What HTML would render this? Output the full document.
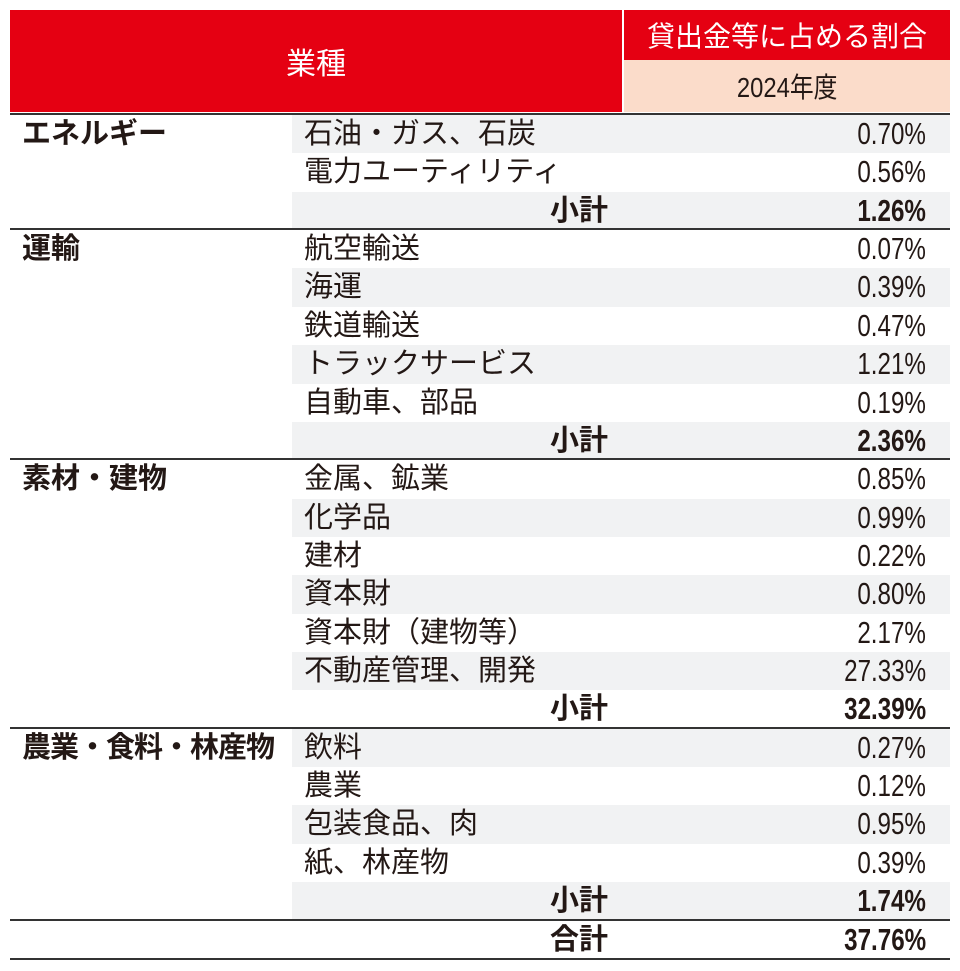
<!DOCTYPE html>
<html><head><meta charset="utf-8"><style>
body{margin:0;background:#fff;width:960px;height:971px;position:relative;overflow:hidden;font-family:"Liberation Sans","Noto Sans CJK JP",sans-serif;color:#231815}
div{position:absolute}
#rows{left:0;top:0;width:960px;height:971px}
.h1{left:10px;top:10px;width:612px;height:102px;background:#e50012;color:#fff;font-size:30px;display:flex;align-items:center;justify-content:center}
.h2{left:622px;top:10px;width:328px;height:50px;background:#e50012;color:#fff;font-size:28px;display:flex;align-items:center;justify-content:center;border-left:2px solid #fff;box-sizing:border-box}
.h3{left:622px;top:60px;width:328px;height:52px;background:#fbdcca;font-size:28px;display:flex;align-items:center;justify-content:center;border-left:2px solid #fff;box-sizing:border-box}
.h3 span{display:inline-block;transform:scaleX(0.85)}
.r{left:292px;width:658px;height:38.4px}
.g{background:#f1f2f3}
.t{font-size:29px;line-height:38px;white-space:nowrap}
.it{left:304px}
.v{right:34px;text-align:right;font-size:31px;transform:scaleX(0.78);transform-origin:right center}
.s{right:352px;font-weight:bold;text-align:right}
.b{font-weight:bold}
.c{left:22px;font-weight:bold;font-size:29px;line-height:38px;white-space:nowrap}
.ln{left:10px;width:940px;height:2px;background:#333}
</style></head><body>
<div class="h1">業種</div>
<div class="h2">貸出金等に占める割合</div>
<div class="h3"><span>2024年度</span></div>
<div id="rows"></div>
<script>
const rows=[
["エネルギー","石油・ガス、石炭","0.70%"],[null,"電力ユーティリティ","0.56%"],[null,"小計","1.26%",1],
["運輸","航空輸送","0.07%"],[null,"海運","0.39%"],[null,"鉄道輸送","0.47%"],[null,"トラックサービス","1.21%"],[null,"自動車、部品","0.19%"],[null,"小計","2.36%",1],
["素材・建物","金属、鉱業","0.85%"],[null,"化学品","0.99%"],[null,"建材","0.22%"],[null,"資本財","0.80%"],[null,"資本財（建物等）","2.17%"],[null,"不動産管理、開発","27.33%"],[null,"小計","32.39%",1],
["農業・食料・林産物","飲料","0.27%"],[null,"農業","0.12%"],[null,"包装食品、肉","0.95%"],[null,"紙、林産物","0.39%"],[null,"小計","1.74%",1],
[null,"合計","37.76%",1]];
let h="";const H=38.36,T=115;
rows.forEach((r,i)=>{const y=T+i*H;
if(i%2==0)h+=`<div class="r g" style="top:${y}px"></div>`;
if(r[0]){h+=`<div class="ln" style="top:${y-2}px"></div><div class="c" style="top:${y}px;${r[0].length>6?'letter-spacing:-1px':''}">${r[0]}</div>`;}
if(r[3]){h+=`<div class="t s" style="top:${y}px">${r[1]}</div><div class="t v b" style="top:${y}px">${r[2]}</div>`;}
else h+=`<div class="t it" style="top:${y}px">${r[1]}</div><div class="t v" style="top:${y}px">${r[2]}</div>`;
});
h+=`<div class="ln" style="top:${T+21*H-2}px"></div><div class="ln" style="top:${T+22*H-1}px"></div>`;
document.getElementById("rows").innerHTML=h;
</script>
</body></html>
